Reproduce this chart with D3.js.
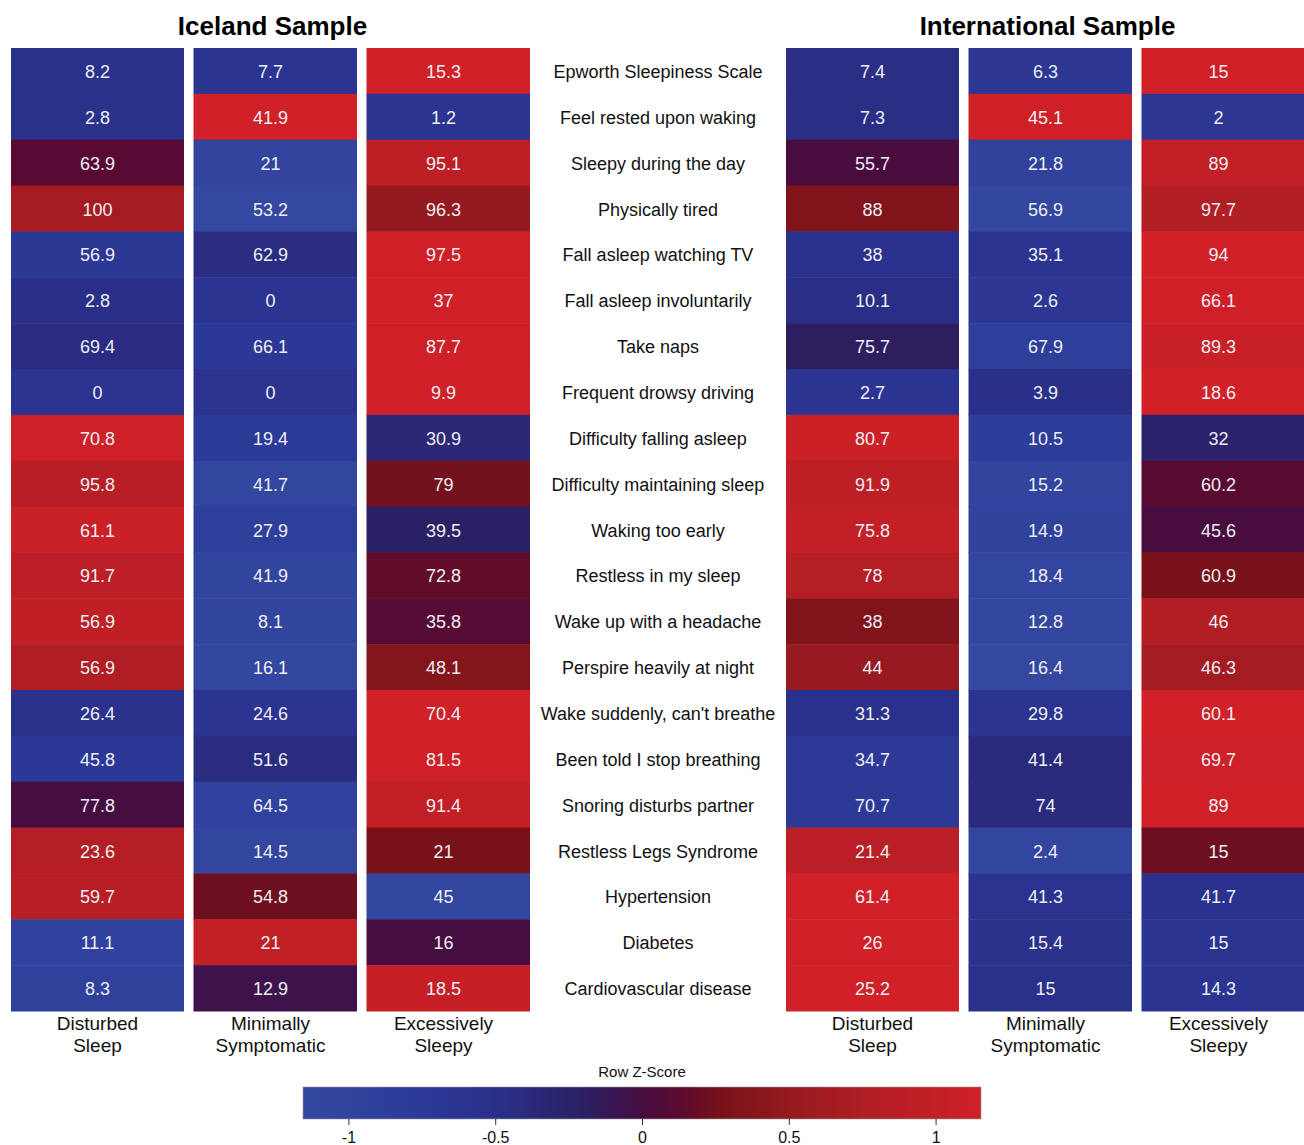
<!DOCTYPE html>
<html>
<head>
<meta charset="utf-8">
<script src="https://cdn.jsdelivr.net/npm/d3@7"></script>
<style>
  body { margin: 0; background: #fff; }
  svg { display: block; font-family: "Liberation Sans", Arial, sans-serif; }
</style>
</head>
<body>
<div id="heatmap"></div>
<script>
// row labels (symptoms)
let symptoms = [
  "Epworth Sleepiness Scale", "Feel rested upon waking", "Sleepy during the day",
  "Physically tired", "Fall asleep watching TV", "Fall asleep involuntarily",
  "Take naps", "Frequent drowsy driving", "Difficulty falling asleep",
  "Difficulty maintaining sleep", "Waking too early", "Restless in my sleep",
  "Wake up with a headache", "Perspire heavily at night", "Wake suddenly, can't breathe",
  "Been told I stop breathing", "Snoring disturbs partner", "Restless Legs Syndrome",
  "Hypertension", "Diabetes", "Cardiovascular disease"
];

// cluster groups
let clusters = ["Disturbed Sleep", "Minimally Symptomatic", "Excessively Sleepy"];

// Iceland sample values, one array per cluster
let icelandDisturbed = [8.2, 2.8, 63.9, 100, 56.9, 2.8, 69.4, 0, 70.8, 95.8, 61.1, 91.7, 56.9, 56.9, 26.4, 45.8, 77.8, 23.6, 59.7, 11.1, 8.3];
let icelandMinimal   = [7.7, 41.9, 21, 53.2, 62.9, 0, 66.1, 0, 19.4, 41.7, 27.9, 41.9, 8.1, 16.1, 24.6, 51.6, 64.5, 14.5, 54.8, 21, 12.9];
let icelandSleepy    = [15.3, 1.2, 95.1, 96.3, 97.5, 37, 87.7, 9.9, 30.9, 79, 39.5, 72.8, 35.8, 48.1, 70.4, 81.5, 91.4, 21, 45, 16, 18.5];

// International sample values
let intlDisturbed = [7.4, 7.3, 55.7, 88, 38, 10.1, 75.7, 2.7, 80.7, 91.9, 75.8, 78, 38, 44, 31.3, 34.7, 70.7, 21.4, 61.4, 26, 25.2];
let intlMinimal   = [6.3, 45.1, 21.8, 56.9, 35.1, 2.6, 67.9, 3.9, 10.5, 15.2, 14.9, 18.4, 12.8, 16.4, 29.8, 41.4, 74, 2.4, 41.3, 15.4, 15];
let intlSleepy    = [15, 2, 89, 97.7, 94, 66.1, 89.3, 18.6, 32, 60.2, 45.6, 60.9, 46, 46.3, 60.1, 69.7, 89, 15, 41.7, 15, 14.3];

// colour bar ticks
let zTicks = [-1, -0.5, 0, 0.5, 1];

let width = 1304, height = 1145;
let sepWidth = 9.5; // white separator between columns

let svg = d3.select("#heatmap")
  .append("svg")
    .attr("width", width)
    .attr("height", height);

// colour ramp, blue -> dark purple -> red
let zMax = 2 / Math.sqrt(3);
let color = d3.scaleLinear()
  .domain([-zMax, -0.8, -0.5, -0.2, 0, 0.12, 0.27, 0.5, 0.75, zMax])
  .range(["#3448a0", "#2c3b99", "#2a308a", "#2a2064", "#470c40", "#5a0a30", "#781218", "#951a1f", "#ae1e23", "#d02028"])
  .clamp(true);

// rows shared by both panels
let y = d3.scaleBand()
  .domain(symptoms)
  .range([48, 1011]);

// row z-score within one sample
function rowZ(cols) {
  return symptoms.map(function(s, i) {
    let vals = cols.map(function(c) { return c[i]; });
    let m = d3.mean(vals), sd = d3.deviation(vals);
    return vals.map(function(v) { return sd ? (v - m) / sd : 0; });
  });
}

function drawPanel(title, cols, x0, x1) {
  let x = d3.scaleBand()
    .domain(clusters)
    .range([x0, x1]);

  // columns after the first one start after a white separator
  let sep = function(c) { return clusters.indexOf(c) > 0 ? sepWidth : 0; };

  let z = rowZ(cols);
  let cells = [];
  symptoms.forEach(function(s, i) {
    clusters.forEach(function(c, j) {
      cells.push({row: s, col: c, value: cols[j][i], z: z[i][j]});
    });
  });

  let g = svg.append("g");

  g.selectAll("rect")
    .data(cells)
    .enter().append("rect")
      .attr("x", function(d) { return x(d.col) + sep(d.col); })
      .attr("y", function(d) { return y(d.row); })
      .attr("width", function(d) { return x.bandwidth() - sep(d.col); })
      .attr("height", y.bandwidth() + 0.5)
      .attr("fill", function(d) { return color(d.z); });

  g.selectAll("text.val")
    .data(cells)
    .enter().append("text")
      .attr("class", "val")
      .attr("x", function(d) { return x(d.col) + x.bandwidth() / 2; })
      .attr("y", function(d) { return y(d.row) + y.bandwidth() / 2 + 7; })
      .attr("text-anchor", "middle")
      .attr("font-size", 18)
      .attr("fill", "#eeeef4")
      .text(function(d) { return d.value; });

  // title
  g.append("text")
    .attr("x", (x0 + x1) / 2 + 2)
    .attr("y", 35)
    .attr("text-anchor", "middle")
    .attr("font-size", 26)
    .attr("font-weight", "bold")
    .attr("fill", "#000")
    .text(title);

  // cluster labels under the columns, two lines
  let lab = g.selectAll("text.col")
    .data(clusters)
    .enter().append("text")
      .attr("class", "col")
      .attr("text-anchor", "middle")
      .attr("font-size", 19)
      .attr("fill", "#111");
  lab.each(function(d) {
    let words = d.split(" ");
    let t = d3.select(this);
    words.forEach(function(w, k) {
      t.append("tspan")
        .attr("x", x(d) + x.bandwidth() / 2)
        .attr("y", 1030 + k * 22)
        .text(w);
    });
  });
}

drawPanel("Iceland Sample", [icelandDisturbed, icelandMinimal, icelandSleepy], 11, 530);
drawPanel("International Sample", [intlDisturbed, intlMinimal, intlSleepy], 786, 1305);

// row labels in the middle
svg.append("g")
  .selectAll("text")
  .data(symptoms)
  .enter().append("text")
    .attr("x", 658)
    .attr("y", function(d) { return y(d) + y.bandwidth() / 2 + 7; })
    .attr("text-anchor", "middle")
    .attr("font-size", 18)
    .attr("fill", "#111")
    .text(function(d) { return d; });

// colour key
let kx = d3.scaleLinear()
  .domain([-zMax, zMax])
  .range([303, 981]);

let defs = svg.append("defs");
let grad = defs.append("linearGradient")
  .attr("id", "zgrad")
  .attr("x1", "0%").attr("x2", "100%");
grad.selectAll("stop")
  .data(d3.range(0, 1.0001, 0.02))
  .enter().append("stop")
    .attr("offset", function(d) { return (d * 100) + "%"; })
    .attr("stop-color", function(d) { return color(-zMax + d * 2 * zMax); });

svg.append("rect")
  .attr("x", kx.range()[0])
  .attr("y", 1087)
  .attr("width", kx.range()[1] - kx.range()[0])
  .attr("height", 32)
  .attr("fill", "url(#zgrad)")
  .attr("stroke", "#999")
  .attr("stroke-width", 0.6);

let keyAxis = svg.append("g")
  .attr("transform", "translate(0,1119)")
  .call(d3.axisBottom(kx).tickValues(zTicks).tickSize(6).tickFormat(function(d) { return String(d); }));
keyAxis.select(".domain").remove();
keyAxis.selectAll("line").attr("stroke", "#333");
keyAxis.selectAll("text")
  .attr("font-size", 16)
  .attr("font-family", "Liberation Sans, Arial, sans-serif")
  .attr("fill", "#111")
  .attr("dy", "0.95em");

svg.append("text")
  .attr("x", kx(0))
  .attr("y", 1077)
  .attr("text-anchor", "middle")
  .attr("font-size", 15)
  .attr("fill", "#111")
  .text("Row Z-Score");
</script>
</body>
</html>
